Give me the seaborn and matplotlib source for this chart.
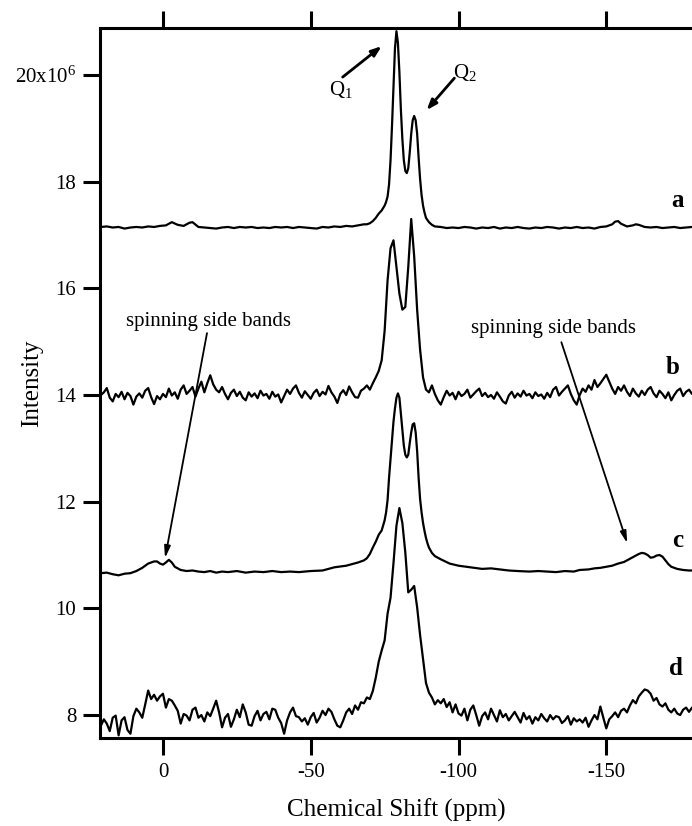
import numpy as np
import pandas as pd
import matplotlib
matplotlib.use("Agg")
import matplotlib.pyplot as plt
import seaborn as sns

# ---------------- data (intensity in units of 1e6) ----------------
# trace a (smooth, top)
a_ppm = [21, 19, 17, 15, 13, 11, 9, 7, 5, 3, 1, -1, -3, -5, -7, -9, -10, -12, -14, -16, -18, -20,
         -22, -24, -26, -28, -30, -32, -34, -36, -38, -40, -42, -44, -46, -48, -50, -52, -54, -56,
         -58, -60, -62, -64, -66, -68, -69, -70, -71, -72, -73, -74, -75, -75.5, -76, -76.5, -77,
         -77.5, -78, -78.5, -79, -79.5, -80, -80.5, -81, -81.5, -82, -82.5, -83, -83.5, -84, -84.5,
         -85, -85.5, -86, -86.5, -87, -87.5, -88, -88.5, -89, -90, -91, -92, -94, -96, -98, -100,
         -102, -104, -106, -108, -110, -112, -114, -116, -118, -120, -122, -124, -126, -128, -130,
         -132, -134, -136, -138, -140, -142, -144, -146, -148, -150, -152, -153, -154, -155, -157,
         -159, -160, -161, -163, -165, -167, -169, -171, -173, -175, -177, -179, -180]
a_int = [17.15, 17.16, 17.14, 17.15, 17.12, 17.14, 17.15, 17.14, 17.16, 17.15, 17.17, 17.18, 17.24,
         17.19, 17.17, 17.23, 17.24, 17.15, 17.14, 17.13, 17.12, 17.14, 17.15, 17.13, 17.15, 17.14,
         17.15, 17.13, 17.14, 17.13, 17.15, 17.14, 17.15, 17.13, 17.15, 17.14, 17.13, 17.12, 17.15,
         17.14, 17.16, 17.15, 17.17, 17.16, 17.18, 17.20, 17.20, 17.22, 17.26, 17.32, 17.40, 17.46,
         17.55, 17.62, 17.72, 17.95, 18.40, 19.05, 19.80, 20.50, 20.82, 20.60, 20.05, 19.35, 18.80,
         18.40, 18.20, 18.16, 18.25, 18.55, 18.90, 19.15, 19.23, 19.15, 18.90, 18.45, 18.05, 17.75,
         17.55, 17.42, 17.32, 17.24, 17.19, 17.16, 17.15, 17.13, 17.14, 17.13, 17.15, 17.14, 17.12,
         17.14, 17.13, 17.15, 17.12, 17.14, 17.13, 17.15, 17.13, 17.12, 17.14, 17.13, 17.15, 17.14,
         17.12, 17.14, 17.13, 17.15, 17.13, 17.14, 17.12, 17.15, 17.16, 17.20, 17.25, 17.26, 17.21,
         17.16, 17.18, 17.20, 17.19, 17.15, 17.14, 17.15, 17.13, 17.14, 17.15, 17.13, 17.14, 17.15,
         17.14]

# traces b and d (noisy), sampled every 1 ppm from 21 to -180
bd_ppm = np.arange(21, -181, -1)
b_int = [14.00, 14.05, 14.13, 13.95, 13.88, 14.02, 13.96, 14.06, 13.92, 14.04, 13.98, 13.82, 13.97,
         14.03, 13.95, 14.08, 14.13, 13.96, 13.83, 13.98, 13.92, 14.02, 13.96, 14.12, 13.99, 14.05,
         13.93, 14.10, 14.18, 14.02, 14.08, 14.15, 13.97, 14.12, 14.25, 14.05, 14.22, 14.37, 14.20,
         14.10, 14.05, 14.15, 14.02, 13.92, 14.04, 14.10, 13.98, 14.06, 13.95, 13.90, 14.05, 13.97,
         14.03, 13.94, 14.08, 13.99, 14.02, 13.93, 14.06, 13.97, 14.01, 13.86, 13.98, 14.10, 14.02,
         14.12, 14.18, 14.04, 13.95, 14.07, 14.00, 13.93, 14.04, 14.10, 13.98, 14.06, 14.01, 14.17,
         14.05, 13.97, 13.85, 14.02, 14.09, 14.00, 14.16, 14.05, 13.96, 13.95, 14.08, 14.12, 14.18,
         14.10, 14.22, 14.33, 14.45, 14.65, 15.20, 16.15, 16.75, 16.90, 16.40, 15.90, 15.60, 15.65,
         16.40, 17.30, 16.60, 15.60, 14.85, 14.33, 14.10, 14.05, 14.18, 14.02, 13.90, 13.82, 13.96,
         14.08, 13.99, 14.04, 13.92, 14.06, 13.98, 14.02, 14.10, 13.95, 14.01, 14.07, 14.12, 13.98,
         14.04, 13.96, 14.00, 13.93, 14.05, 13.97, 13.88, 13.84, 13.99, 14.06, 13.95, 14.03, 13.97,
         14.08, 13.99, 14.02, 13.94, 14.05, 13.98, 14.01, 13.93, 14.04, 13.96, 14.10, 14.15, 13.99,
         14.06, 14.12, 14.18, 14.02, 13.90, 13.82, 14.00, 14.12, 14.06, 14.18, 14.10, 14.28, 14.15,
         14.22, 14.30, 14.38, 14.25, 14.12, 14.02, 14.15, 14.08, 14.18, 14.06, 13.98, 14.12, 14.03,
         13.97, 14.08, 14.00, 14.10, 14.15, 14.03, 13.96, 14.08, 14.02, 13.94, 14.05, 13.90, 14.00,
         14.08, 14.12, 13.98, 14.06, 14.10, 14.02, 14.08]
d_int = [7.80, 7.92, 7.84, 7.70, 7.95, 7.99, 7.62, 7.90, 7.96, 7.72, 7.65, 7.98, 8.12, 8.05, 7.95,
         8.20, 8.46, 8.30, 8.38, 8.27, 8.35, 8.40, 8.14, 8.30, 8.27, 8.18, 8.08, 7.84, 8.02, 7.99,
         7.90, 8.10, 8.14, 7.95, 8.00, 7.88, 8.05, 7.98, 8.12, 8.27, 8.05, 7.77, 7.95, 8.02, 7.78,
         7.92, 8.10, 7.96, 8.20, 8.05, 7.82, 7.80, 7.98, 8.08, 7.90, 8.02, 8.06, 7.92, 8.12, 8.10,
         7.95, 7.85, 7.65, 7.90, 8.05, 8.14, 7.98, 7.96, 7.88, 7.94, 7.82, 7.96, 8.04, 7.86, 7.95,
         8.08, 8.00, 8.12, 8.06, 7.92, 7.80, 7.77, 7.90, 8.05, 8.12, 8.02, 8.18, 8.10, 8.24, 8.22,
         8.33, 8.30, 8.45, 8.70, 9.00, 9.21, 9.40, 9.90, 10.20, 10.85, 11.55, 11.88, 11.60, 11.05,
         10.30, 10.35, 10.42, 10.02, 9.50, 9.05, 8.60, 8.42, 8.33, 8.20, 8.28, 8.22, 8.30, 8.15,
         8.24, 8.05, 8.20, 8.03, 7.99, 8.12, 7.90, 8.10, 8.18, 8.00, 7.80, 7.98, 8.05, 7.92, 8.12,
         8.00, 7.88, 8.09, 7.96, 8.02, 7.90, 7.98, 8.06, 7.96, 7.86, 8.04, 7.92, 7.98, 7.84, 7.96,
         7.90, 8.02, 7.94, 7.88, 8.00, 7.92, 7.98, 7.96, 7.85, 7.90, 7.98, 7.82, 7.94, 7.88, 7.92,
         7.86, 7.95, 7.78, 7.90, 8.00, 7.92, 8.16, 7.95, 7.75, 7.92, 7.98, 8.05, 7.96, 8.08, 8.12,
         8.05, 8.18, 8.28, 8.22, 8.35, 8.42, 8.48, 8.46, 8.40, 8.27, 8.32, 8.20, 8.16, 8.22, 8.10,
         8.05, 8.12, 8.03, 8.00, 8.10, 8.14, 8.06, 8.14, 8.10]

# trace c (smooth, with spinning side bands)
c_ppm = [21, 19, 17, 15, 13, 11, 9, 7, 5, 3, 2, 1, 0, -1, -2, -3, -4, -6, -8, -10, -12, -14, -16,
         -18, -20, -22, -25, -28, -31, -34, -37, -40, -43, -46, -50, -54, -58, -62, -64, -66, -68,
         -69, -70, -71, -72, -73, -74, -75, -75.5, -76, -76.5, -77, -77.5, -78, -78.5, -79, -79.5,
         -80, -80.5, -81, -81.5, -82, -82.5, -83, -83.5, -84, -84.5, -85, -85.5, -86, -86.5, -87,
         -87.5, -88, -88.5, -89, -89.5, -90, -91, -92, -94, -97, -100, -104, -108, -111, -114, -117,
         -120, -124, -127, -130, -133, -136, -139, -141, -144, -146, -148, -150, -152, -154, -156,
         -157, -159, -161, -162, -163, -164, -165, -166, -167, -168, -169, -170, -171, -172, -174,
         -176, -178, -180]
c_int = [10.66, 10.67, 10.64, 10.62, 10.65, 10.66, 10.70, 10.76, 10.84, 10.88, 10.88, 10.84, 10.82,
         10.86, 10.91, 10.86, 10.78, 10.72, 10.70, 10.71, 10.69, 10.68, 10.70, 10.67, 10.69, 10.68,
         10.70, 10.67, 10.69, 10.68, 10.70, 10.68, 10.69, 10.68, 10.70, 10.71, 10.77, 10.80, 10.83,
         10.86, 10.90, 10.94, 11.02, 11.14, 11.25, 11.38, 11.46, 11.65, 11.80, 12.03, 12.45, 12.80,
         13.15, 13.50, 13.75, 13.95, 14.03, 13.95, 13.65, 13.35, 13.05, 12.88, 12.83, 12.88, 13.10,
         13.30, 13.45, 13.47, 13.30, 12.95, 12.45, 12.05, 11.80, 11.60, 11.45, 11.32, 11.22, 11.14,
         11.04, 10.98, 10.92, 10.84, 10.80, 10.77, 10.74, 10.75, 10.73, 10.71, 10.70, 10.69, 10.70,
         10.69, 10.68, 10.70, 10.69, 10.72, 10.73, 10.75, 10.76, 10.78, 10.80, 10.84, 10.87, 10.90,
         10.96, 11.02, 11.04, 11.03, 11.00, 10.95, 10.96, 10.99, 11.00, 10.97, 10.90, 10.83, 10.78,
         10.74, 10.72, 10.71, 10.71]

x_ticks = [0, -50, -100, -150]
y_ticks = [8, 10, 12, 14, 16, 18, 20]
y_ticklabels = ["8", "10", "12", "14", "16", "18", r"$\mathregular{20x10^{6}}$"]
trace_labels = ["a", "b", "c", "d"]

# ---------------- style ----------------
sns.set_style("ticks")
plt.rcParams["font.family"] = ["Liberation Serif", "DejaVu Serif"]
plt.rcParams["mathtext.fontset"] = "custom"
plt.rcParams["mathtext.rm"] = "Liberation Serif"
plt.rcParams["mathtext.it"] = "Liberation Serif:italic"
plt.rcParams["mathtext.bf"] = "Liberation Serif:bold"
for key in ["text.color", "axes.labelcolor", "xtick.color", "ytick.color", "axes.edgecolor"]:
    plt.rcParams[key] = "black"

W, H = 692, 826
fig = plt.figure(figsize=(W / 100, H / 100), dpi=100)
ax = fig.add_axes([100 / W, (H - 738) / H, (W - 100) / W, (738 - 28) / H])

lw = 1.6
sns.lineplot(x=a_ppm, y=a_int, ax=ax, color="black", lw=lw, sort=False, estimator=None)
sns.lineplot(x=bd_ppm, y=b_int, ax=ax, color="black", lw=lw, sort=False, estimator=None)
sns.lineplot(x=c_ppm, y=c_int, ax=ax, color="black", lw=lw, sort=False, estimator=None)
sns.lineplot(x=bd_ppm, y=d_int, ax=ax, color="black", lw=lw, sort=False, estimator=None)

ax.set_xlim(21.3, -179)
ax.set_ylim(7.57, 20.88)

for side in ["left", "bottom", "top"]:
    ax.spines[side].set_linewidth(2.2)
    ax.spines[side].set_color("black")
ax.spines["right"].set_visible(False)

ax.set_xticks(x_ticks)
ax.set_xticklabels([str(v) for v in x_ticks])
ax.set_yticks(y_ticks)
ax.set_yticklabels(y_ticklabels)
ax.tick_params(axis="x", which="both", direction="out", length=12, width=2.2, top=True,
               labeltop=False, bottom=True, labelsize=15, pad=6, colors="black")
ax.tick_params(axis="y", which="both", direction="out", length=12, width=2.2, right=False,
               labelsize=15, pad=5, colors="black")

ax.set_xlabel("Chemical Shift (ppm)", fontsize=18, va="center", color="black")
ax.xaxis.set_label_coords(0.5, (738 - 810) / 710)
ax.set_ylabel("Intensity", fontsize=18, va="center", color="black")
ax.yaxis.set_label_coords((32 - 100) / 592, 0.5)

# trace letters
label_pos = [(-174.0, 17.65), (-172.6, 14.52), (-174.3, 11.28), (-173.6, 8.87)]
for t, (px, py) in zip(trace_labels, label_pos):
    ax.text(px, py, t, fontsize=18, fontweight="bold", ha="center", va="center", color="black")

# peak labels
ax.annotate("", xy=(-74.0, 20.54), xytext=(-60.8, 19.96),
            arrowprops=dict(arrowstyle="-|>,head_length=0.6,head_width=0.22", lw=2.0,
                            color="black", shrinkA=0, shrinkB=0))
ax.text(-60.1, 19.72, r"$\mathregular{Q_1}$", fontsize=15, ha="center", va="center", color="black")
ax.annotate("", xy=(-89.2, 19.34), xytext=(-98.6, 19.94),
            arrowprops=dict(arrowstyle="-|>,head_length=0.6,head_width=0.22", lw=2.0,
                            color="black", shrinkA=0, shrinkB=0))
ax.text(-102.0, 20.04, r"$\mathregular{Q_2}$", fontsize=15, ha="center", va="center", color="black")

# spinning side bands
ax.text(-15.5, 15.37, "spinning side bands", fontsize=15, ha="center", va="center", color="black")
ax.annotate("", xy=(-0.7, 10.94), xytext=(-14.9, 15.16),
            arrowprops=dict(arrowstyle="-|>,head_length=0.7,head_width=0.18", lw=1.3,
                            color="black", shrinkA=0, shrinkB=0))
ax.text(-132.1, 15.25, "spinning side bands", fontsize=15, ha="center", va="center", color="black")
ax.annotate("", xy=(-157.1, 11.22), xytext=(-134.8, 14.99),
            arrowprops=dict(arrowstyle="-|>,head_length=0.7,head_width=0.18", lw=1.3,
                            color="black", shrinkA=0, shrinkB=0))

fig.savefig("out.png", dpi=100)
